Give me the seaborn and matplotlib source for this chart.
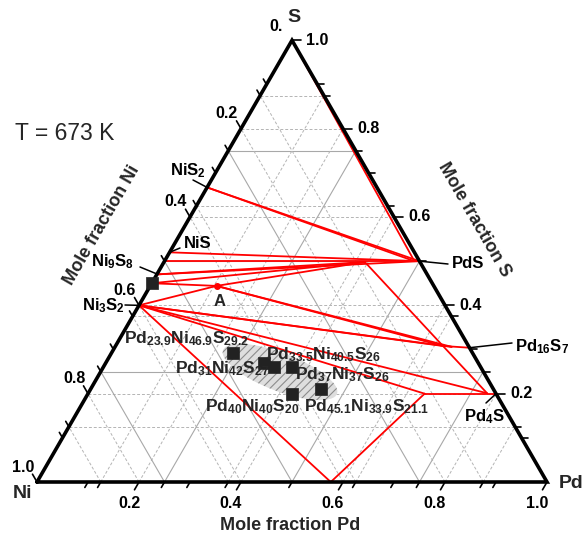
import numpy as np
import pandas as pd
import matplotlib
matplotlib.use("Agg")
import matplotlib.pyplot as plt
import seaborn as sns
from matplotlib.patches import Ellipse

# ---------------- data (ternary compositions: Pd fraction, S fraction) -------------
point_names = ["S", "PdS", "PdSi", "Pd16S7", "Pd4S", "NiS2", "L1", "NiS", "Ni9S8",
               "Sq", "Ni3S2", "C", "J1", "J2", "J2b", "J3", "J4", "B"]
point_pd = [0.0, 0.50, 0.49, 0.696, 0.80, 0.0, 0.0, 0.0, 0.0,
            0.0, 0.0, 0.13, 0.394, 0.642, 0.66, 0.782, 0.66, 0.576]
point_s = [1.0, 0.50, 0.50, 0.304, 0.20, 0.667, 0.52, 0.50, 0.47,
           0.45, 0.40, 0.444, 0.498, 0.308, 0.306, 0.201, 0.20, 0.0]

tie_start = ["S", "NiS2", "NiS2", "L1", "NiS", "Ni9S8", "Ni9S8", "Sq",
             "Ni3S2", "Sq", "C", "C", "C", "Ni3S2", "Ni3S2", "Ni3S2", "Ni3S2", "Ni3S2",
             "J1", "J2", "J2", "J4", "J4"]
tie_end = ["PdSi", "PdS", "PdSi", "PdS", "PdS", "PdS", "J1", "J1",
           "C", "C", "J1", "J2", "J2b", "J2", "J2b", "J3", "J4", "B",
           "J2", "J3", "Pd16S7", "Pd4S", "B"]

sample_labels = ["Pd23.9Ni46.9S29.2", "Pd31Ni42S27", "Pd33.5Ni40.5S26",
                 "Pd37Ni37S26", "Pd40Ni40S20", "Pd45.1Ni33.9S21.1"]
sample_pd = [0.239, 0.31, 0.335, 0.37, 0.40, 0.451]
sample_s = [0.292, 0.27, 0.26, 0.26, 0.20, 0.211]

tick_major = [0.2, 0.4, 0.6, 0.8, 1.0]
tick_labels = ["0.2", "0.4", "0.6", "0.8", "1.0"]

# ---------------- helpers -------------
R3 = np.sqrt(3) / 2


def tern(p, s):
    p = np.asarray(p, float)
    s = np.asarray(s, float)
    return p + s / 2, s * R3


def P(px, py):
    # pixel position of the reference image -> data coordinates (layout only)
    return (px - 37) / 510, (482 - py) / 510


sns.set_theme(style="white")
plt.rcParams["font.family"] = ["Liberation Sans", "DejaVu Sans"]
plt.rcParams["mathtext.fontset"] = "custom"
plt.rcParams["mathtext.rm"] = "Liberation Sans:bold"
plt.rcParams["mathtext.it"] = "Liberation Sans:bold"
plt.rcParams["mathtext.bf"] = "Liberation Sans:bold"
plt.rcParams["mathtext.default"] = "rm"
plt.rcParams["hatch.color"] = "#8c8c8c"
plt.rcParams["hatch.linewidth"] = 0.8

fig = plt.figure(figsize=(5.85, 5.36), dpi=100)
ax = fig.add_axes([0, 0, 1, 1])
ax.set_xlim(-37 / 510, 548 / 510)
ax.set_ylim((482 - 536) / 510, 482 / 510)
ax.set_axis_off()

# ---------------- grid -------------


def grid_line(kind, v, **kw):
    if kind == "s":      # constant S
        a, b = tern([0, 1 - v], [v, v])
    elif kind == "p":    # constant Pd
        a, b = tern([v, v], [0, 1 - v])
    else:                # constant Ni
        a, b = tern([1 - v, 0], [0, 1 - v])
    ax.plot(a, b, **kw)


for kind in ["s", "p", "n"]:
    for v in [0.125, 0.375, 0.625, 0.875]:
        grid_line(kind, v, color="#b4b4b4", lw=0.7, ls=(0, (3, 2)), zorder=1)
    for v in [0.2, 0.4, 0.6, 0.8]:
        grid_line(kind, v, color="#b4b4b4", lw=0.7, ls=(0, (3, 2)), zorder=1)
    for v in [0.25, 0.5, 0.75]:
        grid_line(kind, v, color="#a8a8a8", lw=0.8, zorder=1)

# ---------------- hatched ternary phase region -------------
ell = Ellipse(P(280, 372), 122 / 510, 38 / 510, angle=-21,
              facecolor="#dedede", edgecolor="#8c8c8c", hatch="////", lw=0, zorder=2)
ax.add_patch(ell)

# ---------------- tie lines -------------
pts = {n: (p, s) for n, p, s in zip(point_names, point_pd, point_s)}
rows = []
for i, (a, b) in enumerate(zip(tie_start, tie_end)):
    for n in (a, b):
        x, y = tern(*pts[n])
        rows.append({"line": i, "x": float(x), "y": float(y)})
ties = pd.DataFrame(rows)
sns.lineplot(data=ties, x="x", y="y", units="line", estimator=None, sort=False,
             color="red", lw=1.3, ax=ax, zorder=3, legend=False)

# red dot at crossing point
cx, cy = tern(*pts["C"])
ax.plot([cx], [cy], "o", color="red", ms=4, zorder=4)

# ---------------- triangle frame -------------
fx, fy = tern([0, 1, 0, 0], [0, 0, 1, 0])
ax.plot(fx, fy, color="black", lw=2.6, zorder=5, solid_joinstyle="miter")

# ---------------- ticks -------------
minor = [0.1, 0.3, 0.5, 0.7, 0.9, 0.125, 0.25, 0.375, 0.625, 0.75, 0.875]
tl = 9 / 510
for v in tick_major + minor:
    ln = tl if v in tick_major else tl * 0.7
    x0, y0 = tern(v, 0)
    ax.plot([x0, x0 - 0.5 * ln], [y0, y0 - R3 * ln], color="black", lw=1.2, zorder=5)
    x0, y0 = tern(1 - v, v)
    ax.plot([x0, x0 + ln], [y0, y0], color="black", lw=1.2, zorder=5)
    x0, y0 = tern(0, 1 - v)
    ax.plot([x0, x0 - 0.5 * ln], [y0, y0 + R3 * ln], color="black", lw=1.2, zorder=5)

tk = dict(fontsize=11.5, fontweight="bold", color="black")
for v, lab in zip(tick_major, tick_labels):
    x0, y0 = tern(v, 0)
    ax.text(x0 - 10 / 510, y0 - 21 / 510, lab, ha="center", va="center", **tk)
    x0, y0 = tern(1 - v, v)
    ax.text(x0 + 14 / 510, y0, lab, ha="left", va="center", **tk)
    x0, y0 = tern(0, 1 - v)
    ax.text(x0 - 14 / 510, y0 + 15 / 510, lab, ha="center", va="center", **tk)
ax.text(*P(276, 26), "0.", ha="center", va="center", **tk)

# ---------------- corner and axis titles -------------
ax.text(*P(294, 17), "S", ha="center", va="center", fontsize=14, fontweight="bold")
ax.text(*P(22, 494), "Ni", ha="center", va="center", fontsize=14, fontweight="bold")
ax.text(*P(571, 483), "Pd", ha="center", va="center", fontsize=14, fontweight="bold")
ax.text(*P(290, 525), "Mole fraction Pd", ha="center", va="center", fontsize=13, fontweight="bold")
ax.text(*P(102, 225), "Mole fraction Ni", ha="center", va="center", fontsize=13,
        fontweight="bold", rotation=60)
ax.text(*P(474, 220), "Mole fraction S", ha="center", va="center", fontsize=13,
        fontweight="bold", rotation=-60)
ax.text(*P(15, 133), "T = 673 K", ha="left", va="center", fontsize=16.5)

# ---------------- phase labels with leaders -------------
ph = dict(fontsize=12, color="black", fontweight="bold")


def leader(name, lx, ly):
    x0, y0 = tern(*pts[name])
    x1, y1 = P(lx, ly)
    ax.plot([x0, x1], [y0, y1], color="black", lw=1.1, zorder=5)


ax.text(*P(188, 171), r"NiS$_2$", ha="center", va="center", **ph)
leader("NiS2", 193, 180)
ax.text(*P(198, 243), r"NiS", ha="center", va="center", **ph)
leader("L1", 180, 248)
ax.text(*P(113, 262), r"Ni$_9$S$_8$", ha="center", va="center", **ph)
ax.plot(*zip(P(140, 267), P(157, 274)), color="black", lw=1.1, zorder=5)
ax.text(*P(103, 306), r"Ni$_3$S$_2$", ha="center", va="center", **ph)
leader("Ni3S2", 125, 305)
ax.text(*P(452, 263), r"PdS", ha="left", va="center", **ph)
leader("PdS", 448, 264)
ax.text(*P(515, 347), r"Pd$_{16}$S$_7$", ha="left", va="center", **ph)
leader("Pd16S7", 512, 343)
ax.text(*P(484, 417), r"Pd$_4$S", ha="center", va="center", **ph)
leader("Pd4S", 486, 403)
ax.text(*P(220, 302), "A", ha="center", va="center", fontsize=12, fontweight="bold")

# ---------------- sample points -------------
sx, sy = tern(sample_pd, sample_s)
qx, qy = tern(*pts["Sq"])
marks = pd.DataFrame({"x": list(sx) + [float(qx)], "y": list(sy) + [float(qy)]})
sns.scatterplot(data=marks, x="x", y="y", marker="s", s=75, color="#222222",
                edgecolor="#222222", linewidth=0.5, ax=ax, zorder=6, legend=False)

lab_tex = [r"Pd$_{23.9}$Ni$_{46.9}$S$_{29.2}$", r"Pd$_{31}$Ni$_{42}$S$_{27}$",
           r"Pd$_{33.5}$Ni$_{40.5}$S$_{26}$", r"Pd$_{37}$Ni$_{37}$S$_{26}$",
           r"Pd$_{40}$Ni$_{40}$S$_{20}$", r"Pd$_{45.1}$Ni$_{33.9}$S$_{21.1}$"]
lab_pos = [(187, 339), (222, 369), (324, 355), (342, 375), (252, 407), (367, 407)]
for t, (lx, ly) in zip(lab_tex, lab_pos):
    ax.text(*P(lx, ly), t, ha="center", va="center", fontsize=12.5,
            fontweight="bold", zorder=7)

fig.savefig("out.png", dpi=100)
